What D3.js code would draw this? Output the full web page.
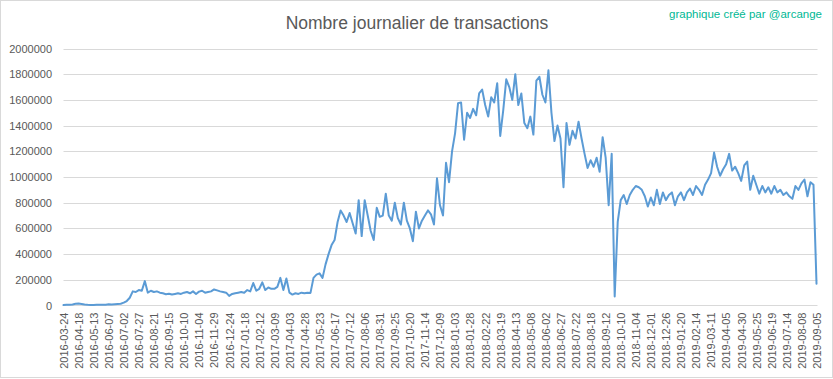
<!DOCTYPE html>
<html><head><meta charset="utf-8">
<script src="https://cdn.jsdelivr.net/npm/d3@7"></script>
<style>body{margin:0;background:#fff}svg{display:block}</style>
</head><body>
<svg id="chart" width="833" height="379"></svg>
<script>
const title = "Nombre journalier de transactions";
const credit = "graphique créé par @arcange";
const tickLabels = ["2016-03-24","2016-04-18","2016-05-13","2016-06-07","2016-07-02","2016-07-27","2016-08-21","2016-09-15","2016-10-10","2016-11-04","2016-11-29","2016-12-24","2017-01-18","2017-02-12","2017-03-09","2017-04-03","2017-04-28","2017-05-23","2017-06-17","2017-07-12","2017-08-06","2017-08-31","2017-09-25","2017-10-20","2017-11-14","2017-12-09","2018-01-03","2018-01-28","2018-02-22","2018-03-19","2018-04-13","2018-05-08","2018-06-02","2018-06-27","2018-07-22","2018-08-18","2018-09-12","2018-10-10","2018-11-04","2018-12-01","2018-12-26","2019-01-20","2019-02-14","2019-03-11","2019-04-05","2019-04-30","2019-05-25","2019-06-19","2019-07-14","2019-08-08","2019-09-05"];
const labelStep = 25;   // categories between labels
const sampleStep = 5;   // categories between sampled values
const yTicks = [0,200000,400000,600000,800000,1000000,1200000,1400000,1600000,1800000,2000000];
const values = [
3000,5000,6000,8000,14000,15000,12000,8000,5000,4000,4000,5000,5000,6000,6000,9000,8000,10000,12000,14000,
22000,35000,60000,110000,105000,120000,115000,190000,100000,115000,
105000,110000,100000,95000,88000,92000,85000,90000,95000,90000,
100000,105000,95000,110000,90000,108000,115000,100000,105000,110000,
125000,118000,110000,105000,100000,75000,90000,95000,100000,105000,
100000,120000,110000,175000,115000,130000,180000,120000,140000,130000,
130000,145000,215000,120000,210000,100000,85000,95000,90000,100000,
95000,100000,98000,215000,240000,250000,215000,320000,400000,470000,
510000,650000,740000,700000,650000,720000,640000,560000,820000,540000,
820000,700000,580000,510000,760000,690000,700000,870000,700000,660000,
800000,680000,630000,800000,660000,600000,500000,730000,600000,660000,
700000,740000,710000,630000,990000,780000,700000,1110000,960000,1200000,
1340000,1575000,1580000,1290000,1500000,1460000,1530000,1480000,1650000,1680000,
1560000,1470000,1620000,1580000,1730000,1320000,1520000,1760000,1700000,1600000,
1800000,1560000,1650000,1420000,1380000,1470000,1330000,1750000,1780000,1640000,
1580000,1830000,1500000,1280000,1400000,1300000,920000,1420000,1250000,1360000,
1300000,1430000,1300000,1180000,1070000,1130000,1080000,1150000,1040000,1310000,
1150000,780000,1180000,70000,650000,820000,860000,790000,860000,900000,
930000,920000,900000,850000,770000,840000,780000,900000,790000,880000,
820000,860000,880000,780000,850000,880000,820000,880000,910000,860000,
930000,900000,860000,940000,980000,1030000,1190000,1080000,1010000,1060000,
1100000,1180000,1050000,1080000,1030000,970000,1090000,1120000,900000,1010000,
940000,870000,930000,880000,920000,870000,930000,880000,900000,860000,
880000,850000,830000,930000,900000,950000,980000,850000,960000,940000,170000
];

const svg = d3.select("#chart");
const W = 833, H = 379;
const lastCat = (tickLabels.length - 1) * labelStep;
const x = d3.scaleLinear().domain([0, lastCat]).range([63.5, 816.5]);
const y = d3.scaleLinear().domain([0, 2000000]).range([305.5, 48.5]);
const font = "'Liberation Sans', Arial, sans-serif";

svg.append("rect").attr("x",0.5).attr("y",0.5).attr("width",W-1).attr("height",H-2)
  .attr("fill","#fff").attr("stroke","#d9d9d9");

// gridlines
svg.append("g").selectAll("line").data(yTicks.filter(d=>d>0)).join("line")
  .attr("x1",63.5).attr("x2",817.5)
  .attr("y1",d=>Math.round(y(d))+0.5).attr("y2",d=>Math.round(y(d))+0.5)
  .attr("stroke","#d9d9d9").attr("stroke-width",1);

// y axis labels
const yAxis = d3.axisLeft(y).tickValues(yTicks).tickSize(0).tickPadding(0).tickFormat(d3.format("d"));
const gy = svg.append("g").attr("transform","translate(52,0)").call(yAxis);
gy.select(".domain").remove();
gy.selectAll("text").attr("font-family",font).attr("font-size","11px").attr("fill","#595959");

// x axis
const xAxis = d3.axisBottom(x).tickValues(d3.range(tickLabels.length).map(i=>i*labelStep))
  .tickFormat((d,i)=>tickLabels[i]).tickSize(0).tickPadding(0);
const gx = svg.append("g").attr("transform","translate(0,305.5)").call(xAxis);
gx.select(".domain").attr("stroke","#d9d9d9").attr("d","M63.5,0H817.5");
gx.selectAll("text").attr("font-family",font).attr("font-size","11px").attr("fill","#595959")
  .attr("transform","rotate(-90)").attr("text-anchor","end")
  .attr("x",-7).attr("y",0).attr("dy","0.35em");

// line
const line = d3.line().x((d,i)=>x(i*sampleStep)).y(d=>y(d));
svg.append("path").datum(values).attr("d",line).attr("fill","none")
  .attr("stroke","#5b9bd5").attr("stroke-width",2).attr("stroke-linejoin","round").attr("stroke-linecap","round");

// title
svg.append("text").attr("x",417).attr("y",29).attr("text-anchor","middle")
  .attr("font-family",font).attr("font-size","17.5px").attr("fill","#595959").text(title);
svg.append("text").attr("x",822).attr("y",18).attr("text-anchor","end")
  .attr("font-family",font).attr("font-size","11.5px").attr("fill","#00b894").text(credit);
</script>
</body></html>
